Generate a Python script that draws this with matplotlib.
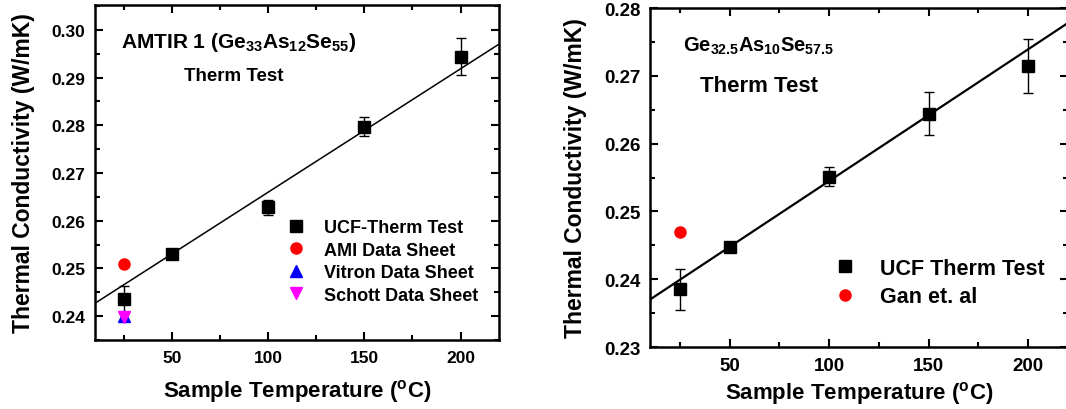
import numpy as np
import matplotlib
matplotlib.use("Agg")
from matplotlib import pyplot as plt
from matplotlib.ticker import MultipleLocator, FormatStrFormatter

plt.rcParams['font.family'] = ['Liberation Sans', 'DejaVu Sans']
plt.rcParams['font.weight'] = 'bold'
plt.rcParams['mathtext.fontset'] = 'custom'
plt.rcParams['mathtext.rm'] = 'Liberation Sans:bold'
plt.rcParams['mathtext.bf'] = 'Liberation Sans:bold'
plt.rcParams['mathtext.it'] = 'Liberation Sans:bold'
plt.rcParams['mathtext.default'] = 'bf'

# Left panel: AMTIR 1
temp_a = [25, 50, 100, 150, 200]
k_a = [0.2435, 0.2531, 0.2628, 0.2797, 0.2944]
err_a = [0.0028, 0.0004, 0.0016, 0.0020, 0.0039]
ami_t, ami_k = [25], [0.2510]
vitron_t, vitron_k = [25], [0.2401]
schott_t, schott_k = [25], [0.2398]
fit_a_t = [10, 220]
fit_a_k = [0.2427, 0.2970]

# Right panel: Ge32.5As10Se57.5
temp_b = [25, 50, 100, 150, 200]
k_b = [0.2385, 0.2447, 0.2551, 0.2644, 0.2715]
err_b = [0.0030, 0.0003, 0.0014, 0.0032, 0.0040]
gan_t, gan_k = [25], [0.2470]
fit_b_t = [10, 220]
fit_b_k = [0.2370, 0.2778]

fig = plt.figure(figsize=(10.66, 4.10), dpi=100)
W, H = 1066, 410
ax1 = fig.add_axes([95 / W, (H - 341) / H, (499 - 95) / W, (341 - 6) / H])
ax2 = fig.add_axes([650 / W, (H - 348) / H, (1068 - 650) / W, (348 - 9) / H])

def style(ax, lsize, xpad):
	ax.set_xlim(10, 220)
	ax.xaxis.set_major_locator(MultipleLocator(50))
	ax.xaxis.set_minor_locator(MultipleLocator(25))
	ax.yaxis.set_major_locator(MultipleLocator(0.01))
	ax.yaxis.set_minor_locator(MultipleLocator(0.005))
	ax.yaxis.set_major_formatter(FormatStrFormatter('%.2f'))
	ax.tick_params(which='both', direction='in', top=True, right=True, width=1.5)
	ax.tick_params(which='major', length=6, labelsize=lsize, pad=7)
	ax.tick_params(which='minor', length=3.5)
	for s in ax.spines.values():
		s.set_linewidth(1.8)
	ax.set_xlabel('Sample Temperature ($^{o}$C)', fontsize=16, fontweight='bold', labelpad=xpad)
	ax.set_ylabel('Thermal Conductivity (W/mK)', fontsize=16.5, fontweight='bold', labelpad=12)

# left
ax1.plot(fit_a_t, fit_a_k, color='black', lw=1.1, zorder=1)
ax1.errorbar(temp_a, k_a, yerr=err_a, fmt='none', ecolor='black', capsize=3.5, elinewidth=1, capthick=1, zorder=2)
ax1.plot(temp_a, k_a, 's', color='black', ms=8, label='UCF-Therm Test', zorder=3)
ax1.plot(ami_t, ami_k, 'o', color='#ff0000', ms=8, label='AMI Data Sheet', zorder=3)
ax1.plot(vitron_t, vitron_k, '^', color='#0000ff', ms=8, label='Vitron Data Sheet', zorder=3)
ax1.plot(schott_t, schott_k, 'v', color='#ff00ff', ms=8, label='Schott Data Sheet', zorder=4)
ax1.set_ylim(0.235, 0.3052)
style(ax1, 12.5, 9)
ax1.legend(loc='lower right', bbox_to_anchor=(0.99, 0.06), frameon=False, fontsize=13, handletextpad=1.0, labelspacing=0.3, handlelength=1.2)
ax1.text(0.065, 0.89, 'AMTIR 1 (Ge$_{33}$As$_{12}$Se$_{55}$)', transform=ax1.transAxes, fontsize=15, fontweight='bold', va='center')
ax1.text(0.22, 0.79, 'Therm Test', transform=ax1.transAxes, fontsize=13.5, fontweight='bold', va='center')

# right
ax2.plot(fit_b_t, fit_b_k, color='black', lw=1.6, zorder=1)
ax2.errorbar(temp_b, k_b, yerr=err_b, fmt='none', ecolor='black', capsize=3.5, elinewidth=1, capthick=1, zorder=2)
ax2.plot(temp_b, k_b, 's', color='black', ms=8, label='UCF Therm Test', zorder=3)
ax2.plot(gan_t, gan_k, 'o', color='#ff0000', ms=8, label='Gan et. al', zorder=3)
ax2.set_ylim(0.23, 0.28)
style(ax2, 13.5, 4)
ax2.legend(loc='lower right', bbox_to_anchor=(0.99, 0.06), frameon=False, fontsize=15.5, handletextpad=1.1, labelspacing=0.35, handlelength=1.0)
ax2.text(0.08, 0.89, 'Ge$_{32.5}$As$_{10}$Se$_{57.5}$', transform=ax2.transAxes, fontsize=14.5, fontweight='bold', va='center')
ax2.text(0.12, 0.77, 'Therm Test', transform=ax2.transAxes, fontsize=16, fontweight='bold', va='center')

fig.savefig('out.png', dpi=100)
